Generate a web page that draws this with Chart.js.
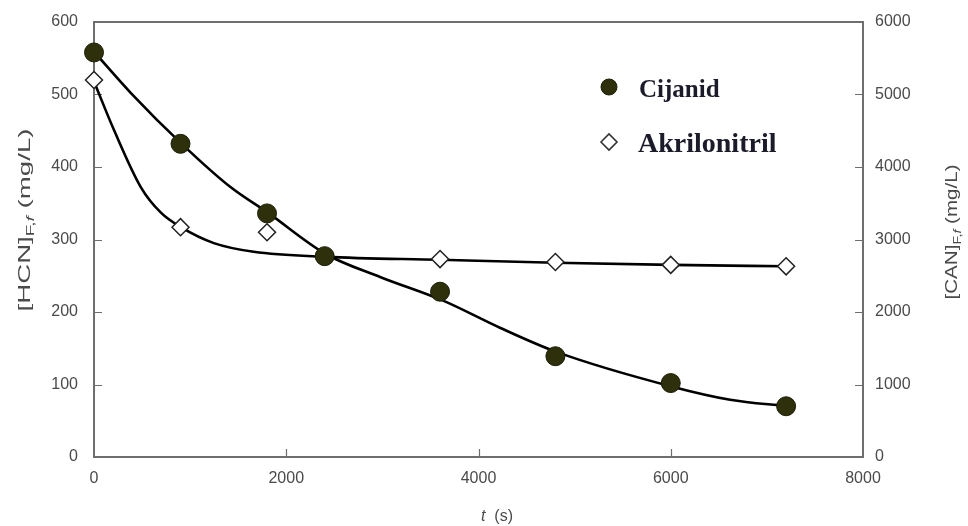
<!DOCTYPE html>
<html>
<head>
<meta charset="utf-8">
<script src="https://cdn.jsdelivr.net/npm/chart.js@4.4.1/dist/chart.umd.min.js"></script>
<style>
html,body{margin:0;padding:0;background:#fff;}
#wrap{width:968px;height:526px;position:relative;}
</style>
</head>
<body>
<div id="wrap"><canvas id="c" width="968" height="526"></canvas></div>
<script>
// ---- data ----
const seriesNames = ["Cijanid", "Akrilonitril"];
// Cijanid measured points (left axis, HCN mg/L)
const cijTime = [0, 900, 1800, 2400, 3600, 4800, 6000, 7200];
const cijHCN  = [558, 432, 336, 277, 228, 139, 102, 70];
// Akrilonitril measured points (right axis, CAN mg/L)
const akrTime = [0, 900, 1800, 3600, 4800, 6000, 7200];
const akrCAN  = [5200, 3170, 3100, 2730, 2690, 2650, 2630];
// fitted curves
const cijFitTime = [0, 384, 904, 1423, 1808, 2410, 2982, 3626, 4228, 4810, 6016, 6618, 7210];
const cijFitHCN  = [559, 502, 433, 372, 337, 280, 248, 216, 178, 145, 97, 79, 70];
const akrFitTime = [0, 208, 488, 696, 904, 1247, 1662, 2410, 3600, 4800, 6000, 7200];
const akrFitCAN  = [5180, 4510, 3720, 3370, 3170, 2950, 2830, 2760, 2720, 2680, 2650, 2630];
// axis ticks
const xTicks  = [0, 2000, 4000, 6000, 8000];
const yTicks  = [0, 100, 200, 300, 400, 500, 600];
const y2Ticks = [0, 1000, 2000, 3000, 4000, 5000, 6000];

const toXY = (xs, ys) => xs.map((x, i) => ({x: x, y: ys[i]}));

const AXIS_COLOR = '#6e6e6e';
const LABEL_COLOR = '#4a4a4a';
const MARK_FILL = '#2e300c';
const SANS = '"Liberation Sans", Arial, sans-serif';

const framePlugin = {
  id: 'frame',
  beforeDatasetsDraw(chart) {
    const {ctx, chartArea: a, scales} = chart;
    ctx.save();
    ctx.strokeStyle = AXIS_COLOR;
    ctx.lineWidth = 2;
    ctx.strokeRect(a.left, a.top, a.right - a.left, a.bottom - a.top);
    ctx.lineWidth = 1.2;
    ctx.beginPath();
    yTicks.slice(1, -1).forEach(v => {
      const p = Math.round(scales.y.getPixelForValue(v)) + 0.5;
      ctx.moveTo(a.left, p); ctx.lineTo(a.left + 8, p);
    });
    y2Ticks.slice(1, -1).forEach(v => {
      const p = Math.round(scales.y2.getPixelForValue(v)) + 0.5;
      ctx.moveTo(a.right, p); ctx.lineTo(a.right - 8, p);
    });
    xTicks.slice(1, -1).forEach(v => {
      const p = Math.round(scales.x.getPixelForValue(v)) + 0.5;
      ctx.moveTo(p, a.bottom); ctx.lineTo(p, a.bottom - 8);
    });
    ctx.stroke();
    ctx.restore();
  },
  afterDraw(chart) {
    const {ctx} = chart;
    ctx.save();
    function vTitle(cx, cy, main, targetLen) {
      ctx.save();
      ctx.translate(cx, cy);
      ctx.rotate(-Math.PI / 2);
      ctx.fillStyle = LABEL_COLOR;
      ctx.textBaseline = 'middle';
      const f1 = '16px ' + SANS;
      const f2 = '11px ' + SANS;
      const f2i = 'italic 11px ' + SANS;
      const parts = [[main, f1, 0], ['F,', f2, 5], ['f', f2i, 5], [' (mg/L)', f1, 0]];
      let total = 0;
      parts.forEach(p => { ctx.font = p[1]; total += ctx.measureText(p[0]).width; });
      ctx.scale(targetLen / total, 1);
      let x = -total / 2;
      ctx.textAlign = 'left';
      parts.forEach(p => {
        ctx.font = p[1];
        ctx.fillText(p[0], x, p[2]);
        x += ctx.measureText(p[0]).width;
      });
      ctx.restore();
    }
    vTitle(26, 220, '[HCN]', 183);
    vTitle(953, 232, '[CAN]', 135);
    // x title
    ctx.fillStyle = LABEL_COLOR;
    ctx.textBaseline = 'middle';
    ctx.textAlign = 'left';
    const fi = 'italic 16px ' + SANS;
    const fn = '16px ' + SANS;
    ctx.font = fi; const w1 = ctx.measureText('t').width;
    ctx.font = fn; const w2 = ctx.measureText('  (s)').width;
    let x0 = 497 - (w1 + w2) / 2;
    ctx.font = fi; ctx.fillText('t', x0, 517);
    ctx.font = fn; ctx.fillText('  (s)', x0 + w1, 517);

    // legend
    ctx.fillStyle = MARK_FILL;
    ctx.strokeStyle = '#1c1d06';
    ctx.lineWidth = 1;
    ctx.beginPath(); ctx.arc(609, 87, 8, 0, Math.PI * 2); ctx.fill(); ctx.stroke();
    ctx.fillStyle = '#fff';
    ctx.strokeStyle = '#333';
    ctx.lineWidth = 1.6;
    ctx.beginPath();
    ctx.moveTo(601, 142); ctx.lineTo(609, 134); ctx.lineTo(617, 142); ctx.lineTo(609, 150); ctx.closePath();
    ctx.fill(); ctx.stroke();
    ctx.fillStyle = '#1b1b2a';
    ctx.textBaseline = 'alphabetic';
    ctx.font = 'bold 25px "Liberation Serif", "Times New Roman", serif';
    ctx.fillText(seriesNames[0], 639, 97);
    ctx.font = 'bold 28px "Liberation Serif", "Times New Roman", serif';
    ctx.fillText(seriesNames[1], 638, 152);
    ctx.restore();
  }
};

const tickFont = {family: SANS, size: 16};
const fitY = w => s => { s.width = w; s.paddingTop = 0; s.paddingBottom = 0; };

new Chart(document.getElementById('c'), {
  type: 'scatter',
  data: {
    datasets: [
      {label: seriesNames[0] + ' fit', data: toXY(cijFitTime, cijFitHCN), yAxisID: 'y', showLine: true,
       borderColor: '#000', borderWidth: 2.6, pointRadius: 0, cubicInterpolationMode: 'monotone', order: 4},
      {label: seriesNames[1] + ' fit', data: toXY(akrFitTime, akrFitCAN), yAxisID: 'y2', showLine: true,
       borderColor: '#000', borderWidth: 2.6, pointRadius: 0, cubicInterpolationMode: 'monotone', order: 3},
      {label: seriesNames[1], data: toXY(akrTime, akrCAN), yAxisID: 'y2', pointStyle: 'rectRot', clip: false,
       pointRadius: 8.5, pointBackgroundColor: '#fff', pointBorderColor: '#222', pointBorderWidth: 1.5, order: 2},
      {label: seriesNames[0], data: toXY(cijTime, cijHCN), yAxisID: 'y', pointStyle: 'circle', clip: false,
       pointRadius: 9.5, pointBackgroundColor: MARK_FILL, pointBorderColor: '#1c1d06', pointBorderWidth: 1, order: 1}
    ]
  },
  options: {
    responsive: false,
    animation: false,
    events: [],
    layout: {padding: {top: 22, left: 0, right: 0, bottom: 0}},
    plugins: {legend: {display: false}, tooltip: {enabled: false}},
    scales: {
      x: {
        type: 'linear', min: 0, max: 8000,
        afterBuildTicks: s => { s.ticks = xTicks.map(v => ({value: v})); },
        afterFit: s => { s.height = 69; s.paddingLeft = 0; s.paddingRight = 0; },
        grid: {display: false, drawTicks: false},
        border: {display: false},
        ticks: {color: LABEL_COLOR, font: tickFont, padding: 12, maxRotation: 0, callback: v => String(v)}
      },
      y: {
        type: 'linear', position: 'left', min: 0, max: 600,
        afterBuildTicks: s => { s.ticks = yTicks.map(v => ({value: v})); },
        afterFit: fitY(94),
        grid: {display: false, drawTicks: false},
        border: {display: false},
        ticks: {color: LABEL_COLOR, font: tickFont, padding: 16, callback: v => String(v)}
      },
      y2: {
        type: 'linear', position: 'right', min: 0, max: 6000,
        afterBuildTicks: s => { s.ticks = y2Ticks.map(v => ({value: v})); },
        afterFit: fitY(105),
        grid: {display: false, drawTicks: false},
        border: {display: false},
        ticks: {color: LABEL_COLOR, font: tickFont, padding: 12, callback: v => String(v)}
      }
    }
  },
  plugins: [framePlugin]
});
</script>
</body>
</html>
